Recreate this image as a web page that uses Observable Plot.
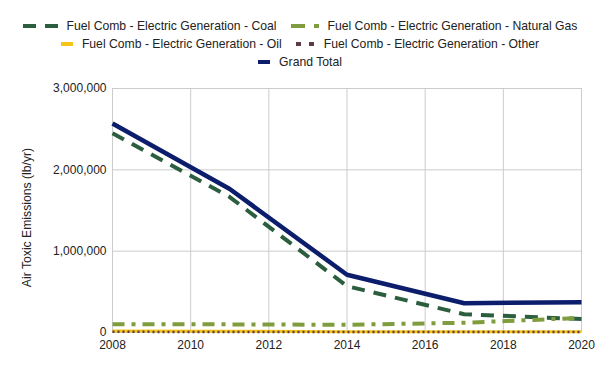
<!DOCTYPE html>
<html>
<head>
<meta charset="utf-8">
<script src="https://cdn.jsdelivr.net/npm/d3@7"></script>
<script src="https://cdn.jsdelivr.net/npm/@observablehq/plot@0.6"></script>
<style>
  html, body { margin: 0; padding: 0; background: #fff; }
  body { width: 600px; height: 371px; overflow: hidden; font-family: "Liberation Sans", Arial, sans-serif; }
  #legend { position: relative; height: 80px; width: 600px; font-size: 12.2px; color: #222; }
  .row { position: absolute; left: 0; width: 600px; height: 20px; display: flex; justify-content: center; align-items: center; }
  .item { display: flex; align-items: center; margin: 0 7px; }
  .item svg { margin-right: 9px; }
</style>
</head>
<body>
<div id="legend"></div>
<div id="chart"></div>
<script>
const years = [2008, 2011, 2014, 2017, 2020];
const coal = [2450000, 1665000, 570000, 225000, 165000];
const naturalGas = [100000, 100000, 95000, 120000, 180000];
const oil = [18000, 15000, 10000, 8000, 8000];
const other = [8000, 7000, 6000, 5000, 5000];
const grandTotal = [2570000, 1765000, 710000, 360000, 372000];

const seriesNames = [
  "Fuel Comb - Electric Generation - Coal",
  "Fuel Comb - Electric Generation - Natural Gas",
  "Fuel Comb - Electric Generation - Oil",
  "Fuel Comb - Electric Generation - Other",
  "Grand Total"
];
const seriesValues = [coal, naturalGas, oil, other, grandTotal];
const colors = ["#2b5e3e", "#7f9c3e", "#f5c518", "#5e3a48", "#0c1d6c"];
const dashes = ["13,9", "12,7,4,7", null, "2,3", null];
const widths = [4, 4, 3, 2.5, 4.5];
const legendDash = ["13,9", "14,9,5", null, "5,8", null];
const legendWidth = [35, 28, 12, 19, 12];
const yTicks = [0, 1000000, 2000000, 3000000];
const xTicks = [2008, 2010, 2012, 2014, 2016, 2018, 2020];
const yLabel = "Air Toxic Emissions (lb/yr)";

// table
const data = seriesNames.flatMap((name, i) =>
  years.map((year, j) => ({series: name, year, value: seriesValues[i][j]})));

// legend
const rows = [[0, 1], [2, 3], [4]];
const rowTops = [16, 34, 52];
const legend = document.getElementById("legend");
rows.forEach((r, ri) => {
  const row = document.createElement("div");
  row.className = "row";
  row.style.top = rowTops[ri] + "px";
  r.forEach(i => {
    const it = document.createElement("div");
    it.className = "item";
    const w = legendWidth[i];
    it.innerHTML = `<svg width="${w}" height="6"><line x1="0" x2="${w}" y1="3" y2="3" stroke="${colors[i]}" stroke-width="4" ${legendDash[i] ? `stroke-dasharray="${legendDash[i]}"` : ""}/></svg><span>${seriesNames[i]}</span>`;
    row.appendChild(it);
  });
  legend.appendChild(row);
});

const chart = Plot.plot({
  width: 600,
  height: 291,
  marginLeft: 112,
  marginRight: 19,
  marginTop: 8,
  marginBottom: 39,
  style: {fontFamily: "'Liberation Sans', Arial, sans-serif", fontSize: "12px", color: "#222", background: "#fff"},
  x: {domain: [2008, 2020]},
  y: {domain: [0, 3000000]},
  marks: [
    Plot.gridX(xTicks, {stroke: "#cccccc", strokeOpacity: 1}),
    Plot.gridY(yTicks, {stroke: "#cccccc", strokeOpacity: 1}),
    Plot.axisX(xTicks, {tickSize: 0, tickPadding: 8, tickFormat: d3.format("d"), label: null}),
    Plot.axisY(yTicks, {tickSize: 0, tickPadding: 6, tickFormat: d3.format(","), label: null}),
    Plot.text([yLabel], {frameAnchor: "left", text: d => d, rotate: -90, textAnchor: "middle", lineAnchor: "middle", dx: -85, dy: 7, fontSize: 12.2, fill: "#222"}),
    ...seriesNames.map((name, i) =>
      Plot.line(data.filter(d => d.series === name), {
        x: "year", y: "value", stroke: colors[i], strokeWidth: widths[i],
        strokeDasharray: dashes[i] || undefined, strokeLinejoin: "round", strokeLinecap: "butt"
      }))
  ]
});
document.getElementById("chart").appendChild(chart);
</script>
</body>
</html>
